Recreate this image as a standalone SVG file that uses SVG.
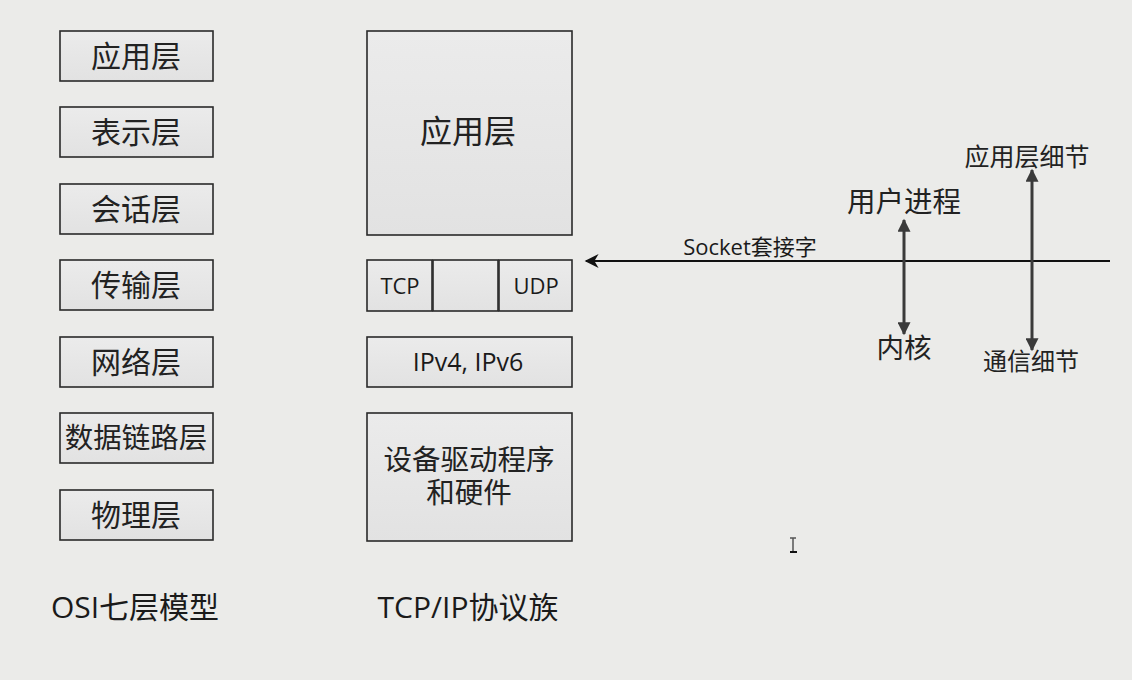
<svg xmlns="http://www.w3.org/2000/svg" width="1132" height="680" viewBox="0 0 1132 680">
<defs>
<linearGradient id="g" x1="0" y1="0" x2="0" y2="1">
<stop offset="0" stop-color="#ebebeb"/>
<stop offset="1" stop-color="#e2e2e2"/>
</linearGradient>
<marker id="ahb" viewBox="0 0 10 10" refX="9" refY="5" markerWidth="18" markerHeight="14" orient="auto" markerUnits="userSpaceOnUse">
<path d="M0,0 L10,5 L0,10 L3,5 Z" fill="#111"/>
</marker>
<marker id="av" viewBox="0 0 10 10" refX="9" refY="5" markerWidth="18" markerHeight="13" orient="auto-start-reverse" markerUnits="userSpaceOnUse">
<path d="M0,0 L10,5 L0,10 Z" fill="#3a3a3a"/>
</marker>
</defs>
<style>
.box{fill:url(#g);stroke:#2a2a2a;stroke-width:1.6}
.zh{font-family:"Liberation Sans","Noto Sans CJK SC",sans-serif;fill:#222;text-anchor:middle;dominant-baseline:central}
.lat{font-family:"Open Sans","Noto Sans CJK SC",sans-serif;fill:#1a1a1a;text-anchor:middle;dominant-baseline:central}
.conn{stroke:#3a3a3a;stroke-width:3;fill:none}
</style>
<rect width="1132" height="680" fill="#ebebe9"/>

<g id="osi-app"><rect class="box" x="60" y="31" width="153" height="50"/><text class="zh" x="136" y="56" font-size="30">应用层</text></g>
<g id="osi-pres"><rect class="box" x="60" y="107" width="153" height="50"/><text class="zh" x="136" y="132" font-size="30">表示层</text></g>
<g id="osi-sess"><rect class="box" x="60" y="184" width="153" height="50"/><text class="zh" x="136" y="209" font-size="30">会话层</text></g>
<g id="osi-trans"><rect class="box" x="60" y="260" width="153" height="50"/><text class="zh" x="136" y="285" font-size="30">传输层</text></g>
<g id="osi-net"><rect class="box" x="60" y="337" width="153" height="50"/><text class="zh" x="136" y="362" font-size="30">网络层</text></g>
<g id="osi-link"><rect class="box" x="60" y="413" width="153" height="50"/><text class="zh" x="136" y="438" font-size="28.5">数据链路层</text></g>
<g id="osi-phy"><rect class="box" x="60" y="490" width="153" height="50"/><text class="zh" x="136" y="515" font-size="30">物理层</text></g>

<g id="tcp-app"><rect class="box" x="367" y="31" width="205" height="204"/><text class="zh" x="468" y="132" font-size="32">应用层</text></g>
<g id="tcp-transport">
<rect class="box" x="367" y="260" width="65" height="51"/>
<rect class="box" x="433" y="260" width="65" height="51"/>
<rect class="box" x="499" y="260" width="73" height="51"/>
<text class="lat" x="400" y="285" font-size="22">TCP</text>
<text class="lat" x="536" y="285" font-size="22">UDP</text>
</g>
<g id="tcp-ip"><rect class="box" x="367" y="337" width="205" height="50"/><text class="lat" x="468" y="361" font-size="25">IPv4, IPv6</text></g>
<g id="tcp-dev"><rect class="box" x="367" y="413" width="205" height="128"/><text class="zh" x="469" y="460" font-size="28.5">设备驱动程序</text><text class="zh" x="469" y="493" font-size="28.5">和硬件</text></g>

<g id="label-osi"><text class="lat" x="135" y="606" font-size="30">OSI七层模型</text></g>
<g id="label-tcpip"><text class="lat" x="468" y="606" font-size="30">TCP/IP协议族</text></g>

<g id="connectors">
<line x1="1110" y1="261" x2="586" y2="261" stroke="#111" stroke-width="2.2" marker-end="url(#ahb)"/>
<line class="conn" x1="904" y1="220" x2="904" y2="334" marker-start="url(#av)" marker-end="url(#av)"/>
<line class="conn" x1="1032" y1="170" x2="1032" y2="350" marker-start="url(#av)" marker-end="url(#av)"/>
</g>

<g id="label-socket"><text class="lat" x="750" y="246" font-size="22">Socket套接字</text></g>
<g id="label-user"><text class="zh" x="904" y="202" font-size="28.5">用户进程</text></g>
<g id="label-kernel"><text class="zh" x="904" y="348" font-size="27.5">内核</text></g>
<g id="label-appdetail"><text class="zh" x="1027" y="157" font-size="25">应用层细节</text></g>
<g id="label-commdetail"><text class="zh" x="1031" y="361" font-size="24">通信细节</text></g>

<g id="cursor" stroke="#555" fill="none">
<line x1="793" y1="538" x2="793" y2="552" stroke-width="1.5"/>
<line x1="790" y1="538" x2="796" y2="538" stroke-width="1.5"/>
<line x1="790" y1="552" x2="797" y2="552" stroke="#111" stroke-width="2"/>
</g>
</svg>
